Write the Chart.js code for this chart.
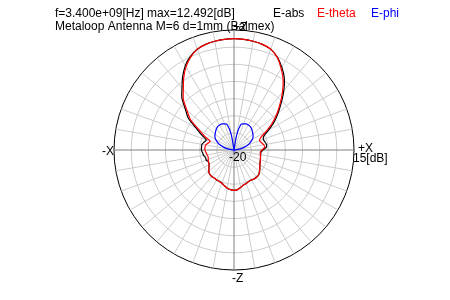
<!DOCTYPE html>
<html>
<head>
<meta charset="utf-8">
<script src="https://cdn.jsdelivr.net/npm/chart.js@4.4.0/dist/chart.umd.min.js"></script>
<style>
html,body{margin:0;padding:0;background:#fff;}
#wrap{position:relative;width:450px;height:300px;}
</style>
</head>
<body>
<div id="wrap"><canvas id="c" width="450" height="300"></canvas></div>
<script>
// Angle from +Z (top) towards +X, degrees
const angles = [0,5,10,15,20,25,30,35,40,45,50,55,60,65,70,75,80,85,
  90,95,100,105,110,115,120,125,130,135,140,145,150,155,160,165,170,175,
  180,185,190,195,200,205,210,215,220,225,230,235,240,245,250,255,260,265,
  270,275,280,285,290,295,300,305,310,315,320,325,330,335,340,345,350,355];

const eAbs = [12.5,12.4,12.2,11.9,11.3,9.9,7.9,5.6,2.6,-0.5,-3.2,-5.7,-8.3,-10.4,-10.9,-10.7,-10.4,-10.5,
  -11.6,-12.1,-12.1,-12.0,-11.8,-11.6,-11.3,-10.8,-10.3,-9.8,-9.7,-9.7,-9.9,-9.9,-9.6,-9.4,-8.9,-8.4,
  -8.2,-8.4,-8.7,-9.2,-9.7,-9.9,-9.9,-10.0,-9.9,-10.0,-10.4,-11.1,-11.6,-11.8,-11.4,-11.4,-11.0,-10.8,
  -10.5,-10.5,-10.5,-11.0,-11.4,-9.6,-7.3,-3.7,-1.5,1.5,3.6,6.1,8.4,10.1,11.3,11.9,12.2,12.4];

const eTheta = [12.5,12.4,12.2,11.9,11.3,9.8,7.5,5.0,2.0,-1.0,-3.7,-6.4,-9.2,-11.4,-12.1,-11.7,-11.2,-11.0,
  -11.9,-12.3,-12.2,-12.0,-11.8,-11.6,-11.3,-10.8,-10.3,-9.8,-9.7,-9.7,-9.9,-9.9,-9.6,-9.4,-8.9,-8.4,
  -8.2,-8.4,-8.7,-9.2,-9.7,-9.9,-9.9,-10.0,-9.9,-10.0,-10.4,-11.1,-11.6,-11.8,-12.0,-12.2,-12.0,-11.8,
  -11.5,-11.5,-11.6,-12.2,-12.6,-10.6,-8.2,-4.5,-2.1,0.9,3.0,5.6,8.0,9.9,11.3,11.9,12.2,12.4];

const ePhi = [-20,-20,-15.5,-12.3,-11.9,-11.6,-11.6,-11.7,-12.0,-12.4,-12.8,-13.2,-13.8,-14.7,-15.7,-17.0,-18.5,-19.8,
  -20,-20,-20,-20,-20,-20,-20,-20,-20,-20,-20,-20,-20,-20,-20,-20,-20,-20,
  -20,-20,-20,-20,-20,-20,-20,-20,-20,-20,-20,-20,-20,-20,-20,-20,-20,-20,
  -20,-19.8,-18.5,-17.0,-15.7,-14.7,-13.8,-13.2,-12.8,-12.4,-12.0,-11.7,-11.6,-11.6,-11.9,-12.3,-15.5,-20];

const seriesNames = ['E-abs','E-theta','E-phi'];
const seriesColors = ['#000000','#ff0000','#0000ff'];
const titleLines = ['f=3.400e+09[Hz] max=12.492[dB]','Metaloop Antenna M=6 d=1mm (Balmex)'];
const axisLabels = ['+Z','+X','-Z','-X'];
const rangeLabels = ['-20','15[dB]'];
const rMin = -20, rMax = 15, rStep = 5;

const FONT = '12px "Liberation Sans", Arial, sans-serif';

const textPlugin = {
  id: 'texts',
  afterDraw(chart) {
    const ctx = chart.ctx;
    const s = chart.scales.r;
    const cx = s.xCenter, cy = s.yCenter, R = s.drawingArea;
    ctx.save();
    ctx.font = FONT;
    ctx.textBaseline = 'alphabetic';
    ctx.textAlign = 'left';
    ctx.fillStyle = '#000';
    ctx.fillText(titleLines[0], 55, 17);
    ctx.fillText(titleLines[1], 55, 30);
    const lx = [273, 317, 371];
    seriesNames.forEach((n, i) => { ctx.fillStyle = seriesColors[i]; ctx.fillText(n, lx[i], 17); });
    ctx.fillStyle = '#000';
    // axis direction labels
    ctx.fillText(axisLabels[0], cx - 1, cy - R + 1);
    ctx.fillText(axisLabels[1], cx + R + 4, cy + 2);
    ctx.fillText(axisLabels[2], cx - 2, cy + R + 12);
    ctx.fillText(axisLabels[3], cx - R - 12, cy + 5);
    // range labels
    ctx.fillText(rangeLabels[0], cx - 5, cy + 11);
    ctx.fillText(rangeLabels[1], cx + R - 1, cy + 12);
    ctx.restore();
  }
};

new Chart(document.getElementById('c'), {
  type: 'radar',
  data: {
    labels: angles,
    datasets: [
      { label: seriesNames[0], data: eAbs, borderColor: seriesColors[0], order: 3 },
      { label: seriesNames[1], data: eTheta, borderColor: seriesColors[1], order: 2 },
      { label: seriesNames[2], data: ePhi, borderColor: seriesColors[2], order: 1 }
    ]
  },
  options: {
    responsive: false,
    animation: false,
    devicePixelRatio: 1,
    layout: { padding: { left: 114, right: 96, top: 30, bottom: 30 } },
    elements: {
      line: { borderWidth: 1.2, fill: false, tension: 0.25 },
      point: { radius: 0, hoverRadius: 0 }
    },
    plugins: { legend: { display: false }, title: { display: false }, tooltip: { enabled: false } },
    scales: {
      r: {
        min: rMin, max: rMax,
        ticks: { display: false, stepSize: rStep },
        pointLabels: { display: false },
        grid: {
          circular: true,
          color: (c) => (c.tick && c.tick.value === rMax) ? '#000000' : '#cccccc',
          lineWidth: 1
        },
        angleLines: {
          display: true,
          color: (c) => (angles[c.index] % 90 === 0) ? '#808080' : '#cccccc',
          lineWidth: (c) => (angles[c.index] % 10 === 0) ? 1 : 0
        }
      }
    }
  },
  plugins: [textPlugin]
});
</script>
</body>
</html>
